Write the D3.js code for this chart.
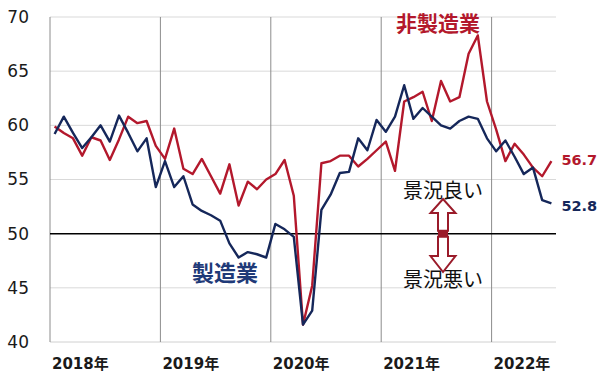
<!DOCTYPE html>
<html><head><meta charset="utf-8">
<script src="https://cdn.jsdelivr.net/npm/d3@7"></script>
<style>
html,body{margin:0;padding:0;background:#fff;}
svg{display:block;}
text{font-family:"DejaVu Sans","Noto Sans CJK JP",sans-serif;}
</style></head>
<body>
<svg id="c" width="600" height="373"></svg>
<script>
const startYear = 2018;
const yearLabels = ["2018年","2019年","2020年","2021年","2022年"];
const yTicks = [40,45,50,55,60,65,70];
const manufacturing = [
 59.2,60.8,59.3,57.9,58.9,60.0,58.5,60.9,59.3,57.6,58.8,54.3,
 56.7,54.3,55.3,52.7,52.1,51.7,51.2,49.1,47.8,48.3,48.1,47.8,
 50.9,50.4,49.7,41.6,42.9,52.2,53.6,55.6,55.7,58.8,57.7,60.5,
 59.4,60.8,63.7,60.6,61.6,60.8,60.0,59.7,60.4,60.8,60.6,58.8,
 57.6,58.6,57.1,55.5,56.1,53.1,52.8
];
const nonManufacturing = [
 59.9,59.3,58.8,57.2,58.9,58.6,56.8,58.7,60.8,60.2,60.4,58.1,
 56.9,59.7,56.0,55.5,56.9,55.3,53.7,56.4,52.6,54.8,54.1,55.0,
 55.5,56.8,53.5,41.6,45.2,56.5,56.7,57.2,57.2,56.2,56.9,57.7,
 58.5,55.8,62.2,62.6,63.1,60.4,64.1,62.2,62.6,66.6,68.3,62.2,
 59.6,56.7,58.3,57.3,56.1,55.3,56.7
];
const seriesNames = ["製造業","非製造業"];
const goodBad = ["景況良い","景況悪い"];

const RED = "#b3182c", NAVY = "#15275a", ARROW = "#9a1b2a";
const svg = d3.select("#c");
const L = 50, R = 556, T = 17, B = 342;
const months = d3.range(manufacturing.length);
const x = d3.scaleBand().domain(months).range([L, R]).padding(0);
const cx = i => x(i) + x.bandwidth()/2;
const y = d3.scaleLinear().domain([40,70]).range([B, T]);

// horizontal gridlines
svg.append("g").selectAll("line").data(yTicks.filter(v=>v!==50 && v!==40)).join("line")
  .attr("x1",L).attr("x2",R).attr("y1",d=>y(d)).attr("y2",d=>y(d))
  .attr("stroke","#d9d9d9").attr("stroke-width",1);
// bottom baseline
svg.append("line").attr("x1",L).attr("x2",R).attr("y1",y(40)).attr("y2",y(40))
  .attr("stroke","#d0d0d0").attr("stroke-width",1);
// year lines
const yearStarts = yearLabels.map((d,k)=>k*12);
svg.append("g").selectAll("line").data(yearStarts).join("line")
  .attr("x1",d=>x(d)).attr("x2",d=>x(d)).attr("y1",y(70)).attr("y2",y(40))
  .attr("stroke","#8c8c8c").attr("stroke-width",1);

// y axis labels
const yAxis = d3.axisLeft(y).tickValues(yTicks).tickSize(0).tickPadding(0);
const ga = svg.append("g").attr("transform","translate(29,0)").call(yAxis);
ga.select(".domain").remove();
ga.selectAll("text").attr("font-size",17).attr("fill","#1a1a1a")
  .attr("font-family","DejaVu Sans, sans-serif");

// x labels
svg.append("g").selectAll("text").data(yearLabels).join("text")
  .attr("x",(d,k)=>x(k*12)+2).attr("y",369)
  .attr("font-size",15).attr("font-weight","bold").attr("fill","#1a1a1a")
  .text(d=>d);

// 50 line
svg.append("line").attr("x1",L).attr("x2",R).attr("y1",y(50)).attr("y2",y(50))
  .attr("stroke","#000").attr("stroke-width",1.5);

// lines
const line = d3.line().x((d,i)=>cx(i)).y(d=>y(d)).curve(d3.curveLinear);
svg.append("path").datum(nonManufacturing).attr("d",line)
  .attr("fill","none").attr("stroke",RED).attr("stroke-width",2.4).attr("stroke-linejoin","round");
svg.append("path").datum(manufacturing).attr("d",line)
  .attr("fill","none").attr("stroke",NAVY).attr("stroke-width",2.4).attr("stroke-linejoin","round");

// end labels
const last = manufacturing.length-1;
svg.append("text").attr("x",cx(last)+10).attr("y",y(nonManufacturing[last])+4)
  .attr("font-size",14.5).attr("font-weight","bold").attr("fill",RED).text(nonManufacturing[last].toFixed(1));
svg.append("text").attr("x",cx(last)+10).attr("y",y(manufacturing[last])+8)
  .attr("font-size",14.5).attr("font-weight","bold").attr("fill",NAVY).text(manufacturing[last].toFixed(1));

// series names
svg.append("text").attr("x",396).attr("y",31).attr("font-size",21).attr("font-weight","bold")
  .attr("fill",RED).attr("font-family","Noto Sans CJK JP").text(seriesNames[1]);
svg.append("text").attr("x",192).attr("y",281).attr("font-size",22).attr("font-weight","bold")
  .attr("fill","#1f3a78").attr("font-family","Noto Sans CJK JP").text(seriesNames[0]);

// good / bad
svg.append("text").attr("x",443).attr("y",198).attr("text-anchor","middle").attr("font-size",20)
  .attr("fill","#111").attr("font-family","Noto Sans CJK JP").text(goodBad[0]);
svg.append("text").attr("x",443).attr("y",287).attr("text-anchor","middle").attr("font-size",20)
  .attr("fill","#111").attr("font-family","Noto Sans CJK JP").text(goodBad[1]);

// arrows
const ax = 443, sw = 5, hw = 12.5, y50 = y(50);
const up = [[ax-sw,y50-3],[ax-sw,213],[ax-hw,213],[ax,199],[ax+hw,213],[ax+sw,213],[ax+sw,y50-3]];
const dn = [[ax-sw,y50+3],[ax-sw,256],[ax-hw,256],[ax,272],[ax+hw,256],[ax+sw,256],[ax+sw,y50+3]];
[up,dn].forEach(p=>{
  svg.append("polygon").attr("points",p.map(q=>q.join(",")).join(" "))
    .attr("fill","#fff").attr("stroke",ARROW).attr("stroke-width",2).attr("stroke-linejoin","miter");
});
svg.append("rect").attr("x",ax-sw).attr("y",y50-3).attr("width",2*sw).attr("height",6).attr("fill",ARROW);
</script>
</body></html>
